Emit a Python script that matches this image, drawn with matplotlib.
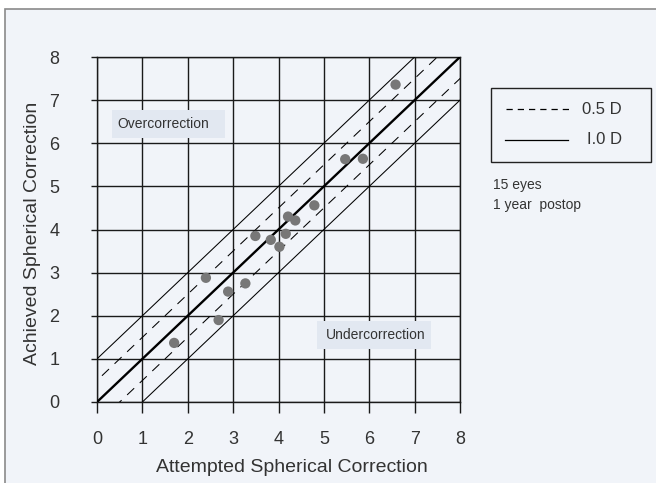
import numpy as np
import matplotlib
matplotlib.use("Agg")
import matplotlib.pyplot as plt
from matplotlib.patches import Rectangle
from matplotlib.lines import Line2D

plt.rcParams['font.family'] = ['Liberation Sans', 'DejaVu Sans']
plt.rcParams['lines.scale_dashes'] = False

# attempted vs achieved spherical correction, 15 eyes
attempted = [1.70, 2.40, 2.68, 2.89, 3.27, 3.49, 3.83, 4.02, 4.16, 4.21, 4.37, 4.79, 5.47, 5.86, 6.58]
achieved = [1.37, 2.88, 1.90, 2.56, 2.75, 3.85, 3.76, 3.60, 3.90, 4.30, 4.21, 4.56, 5.63, 5.64, 7.36]
ticks = [0, 1, 2, 3, 4, 5, 6, 7, 8]
band_dash = 0.5
band_solid = 1.0

bg = '#f1f4f9'
boxc = '#e2e8f1'
txt = '#333333'

fig = plt.figure(figsize=(6.56, 4.83), dpi=100, facecolor='white')
fig.add_artist(Rectangle((5/656, -0.1), 1.0, 1 - 9/483 + 0.1, transform=fig.transFigure,
                         facecolor=bg, edgecolor='#8a8a8a', lw=1.2, zorder=-10))

ax = fig.add_axes([97/656, 81/483, 363/656, 345/483])
ax.set_facecolor('none')
ax.set_xlim(0, 8)
ax.set_ylim(0, 8)
ax.set_xticks(ticks)
ax.set_yticks(ticks)
ax.grid(True, color='#1a1a1a', lw=1.0)
ax.set_axisbelow(True)
for s in ax.spines.values():
    s.set_color('#1a1a1a')
    s.set_linewidth(1.0)
ax.tick_params(axis='x', length=8, width=1.0, color='#1a1a1a', pad=13, labelsize=13, labelcolor=txt)
ax.tick_params(axis='y', length=4, width=1.0, color='#1a1a1a', pad=23, labelsize=13, labelcolor=txt)

xs = np.array([-1.0, 9.0])
ax.plot(xs, xs, color='black', lw=1.7, zorder=3)
for d in (band_solid, -band_solid):
    ax.plot(xs, xs + d, color='black', lw=0.75, zorder=3)
for d in (band_dash, -band_dash):
    ax.plot(xs, xs + d, color='black', lw=0.75, ls=(0, (7, 5.5)), zorder=3)

ax.scatter(attempted, achieved, s=55, color='#777777', edgecolor='none', zorder=4)

ax.add_patch(Rectangle((0.32, 6.12), 2.5, 0.65, facecolor=boxc, edgecolor='none', zorder=2))
ax.text(0.46, 6.45, 'Overcorrection', fontsize=10, color=txt, va='center', ha='left', zorder=5)
ax.add_patch(Rectangle((4.85, 1.22), 2.5, 0.66, facecolor=boxc, edgecolor='none', zorder=2))
ax.text(5.05, 1.55, 'Undercorrection', fontsize=10, color=txt, va='center', ha='left', zorder=5)

ax.set_xlabel('Attempted Spherical Correction', fontsize=14, color=txt)
ax.xaxis.set_label_coords(0.537, -0.166)
ax.set_ylabel('Achieved Spherical Correction', fontsize=14, color=txt)
ax.yaxis.set_label_coords(-0.153, 0.49)

# legend box drawn in figure pixels
def fx(p):
    return p / 656
def fy(p):
    return 1 - p / 483

fig.add_artist(Rectangle((fx(491), fy(162)), fx(160), 74/483, transform=fig.transFigure,
                         facecolor='none', edgecolor='#222222', lw=1.0))
fig.add_artist(Line2D([fx(506), fx(570)], [fy(109), fy(109)], transform=fig.transFigure,
                      color='black', lw=0.9, ls=(0, (4.5, 3.6))))
fig.add_artist(Line2D([fx(505), fx(568)], [fy(140), fy(140)], transform=fig.transFigure,
                      color='black', lw=0.9))
fig.text(fx(622), fy(109), '0.5 D', fontsize=12, color=txt, ha='right', va='center')
fig.text(fx(622), fy(140), 'I.0 D', fontsize=12, color=txt, ha='right', va='center')
fig.text(fx(493), fy(185), '15 eyes', fontsize=10, color=txt, ha='left', va='center')
fig.text(fx(493), fy(205), '1 year  postop', fontsize=10, color=txt, ha='left', va='center')

fig.savefig('out.png', dpi=100, facecolor=fig.get_facecolor())
